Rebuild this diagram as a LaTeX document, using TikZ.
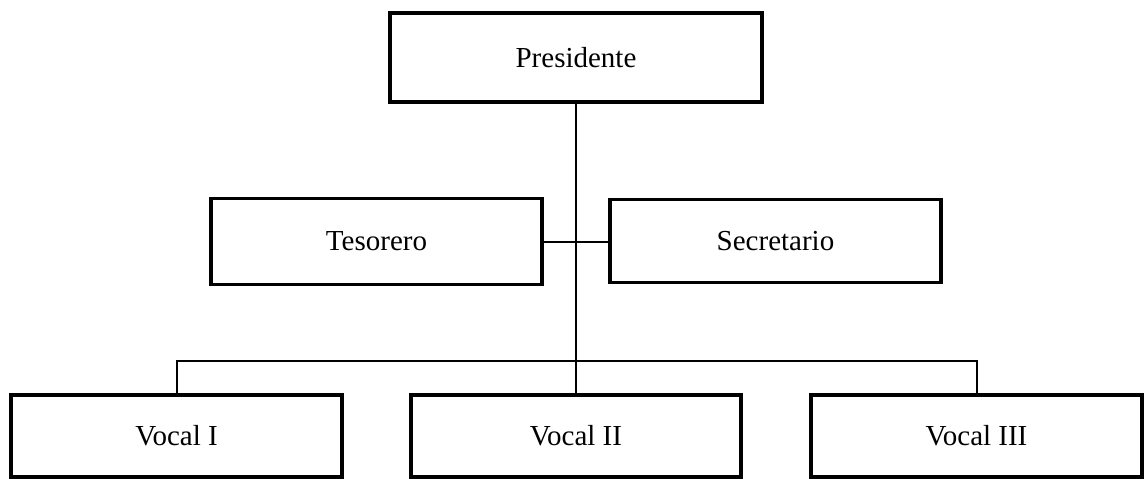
\documentclass[tikz,border=0pt]{standalone}
\usepackage{fontspec}
\setmainfont{Liberation Serif}
\begin{document}
\begin{tikzpicture}[x=1pt,y=-1pt,
  orgbox/.style={draw=black, line width=3.4pt, fill=white, inner sep=0pt,
    font=\fontsize{29}{34}\selectfont},
  link/.style={draw=black, line width=2pt}]
\useasboundingbox (0,0) rectangle (1148,479);
\node[orgbox, minimum width=372pt, minimum height=89pt] (pres) at (576,57.5) {Presidente};
\node[orgbox, minimum width=331pt, minimum height=86pt] (tes) at (376.5,241.5) {Tesorero};
\node[orgbox, minimum width=331pt, minimum height=83pt] (sec) at (775.5,241) {Secretario};
\node[orgbox, minimum width=331pt, minimum height=82pt] (v1) at (176.5,436) {Vocal I};
\node[orgbox, minimum width=330pt, minimum height=82pt] (v2) at (576,436) {Vocal II};
\node[orgbox, minimum width=331pt, minimum height=82pt] (v3) at (976.5,436) {Vocal III};
\coordinate (busL) at (176.5,361);
\coordinate (busR) at (976.5,361);
\draw[link] (pres.south) -- (v2.north);
\draw[link] (tes.east) -- (tes.east -| sec.west);
\draw[link] (v1.north) -- (busL) -- (busR) -- (v3.north);
\end{tikzpicture}
\end{document}
